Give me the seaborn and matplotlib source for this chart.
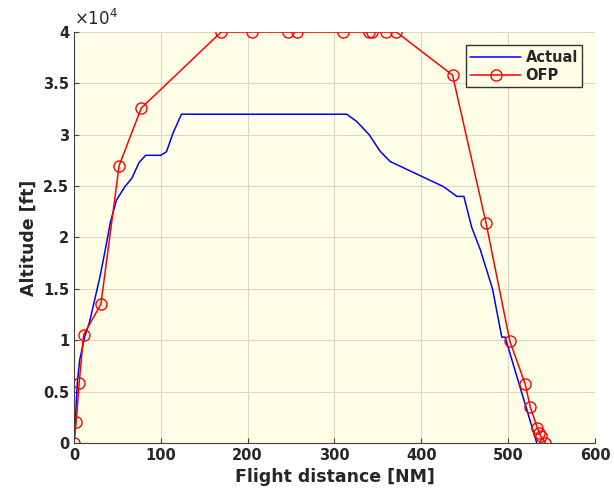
import numpy as np
import pandas as pd
import matplotlib.pyplot as plt
import seaborn as sns
from matplotlib.ticker import FuncFormatter

# actual flight track (distance NM, altitude ft)
actual_dist = [0, 0.5, 2, 3.8, 6.6, 12.4, 18, 30, 36, 42, 49, 58.6, 66.5, 75, 82.5, 100,
               106.5, 114, 123.8, 314, 325.5, 340, 352.5, 364, 425.5, 441, 449, 458,
               468, 482, 492.7, 496.5, 533]
actual_alt = [0, 600, 2800, 5800, 8100, 10350, 11800, 16200, 18800, 21500, 23650, 24950,
              25750, 27300, 28000, 28000, 28350, 30150, 32000, 32000, 31300, 30000, 28400,
              27400, 24950, 24000, 24000, 21000, 18800, 15000, 10300, 10300, 0]

# OFP waypoints
ofp_dist = [0, 2.5, 6, 11.2, 31, 52, 77.5, 169.5, 205, 246, 257, 309.5, 340, 343,
            359.5, 371.3, 436, 474.6, 502, 519.6, 525.5, 533.7, 536, 537.6, 543]
ofp_alt = [0, 2000, 5850, 10550, 13500, 27000, 32600, 40000, 40000, 40000, 40000, 40000,
           40000, 40000, 40000, 40000, 35800, 21400, 9900, 5750, 3500, 1450, 1000, 650, 0]

actual = pd.DataFrame({'dist': actual_dist, 'alt': actual_alt})
ofp = pd.DataFrame({'dist': ofp_dist, 'alt': ofp_alt})

sns.set_style('ticks')
plt.rcParams['font.family'] = ['DejaVu Sans']

fig = plt.figure(figsize=(6.14, 4.97), dpi=100)
ax = fig.add_axes([0.1205, 0.1087, 0.8485, 0.8269])
ax.set_facecolor('#FFFFE8')

sns.lineplot(data=actual, x='dist', y='alt', color='#0000FF', linewidth=1.1,
             sort=False, estimator=None, label='Actual', ax=ax)
sns.lineplot(data=ofp, x='dist', y='alt', color='#FF0000', linewidth=1.1,
             sort=False, estimator=None, marker='o', markersize=8,
             markerfacecolor='none', markeredgecolor='#FF0000', markeredgewidth=1.0,
             label='OFP', ax=ax)

ax.set_xlim(0, 600)
ax.set_ylim(0, 40000)
ax.set_xticks(np.arange(0, 601, 100))
ax.set_yticks(np.arange(0, 40001, 5000))
ax.yaxis.set_major_formatter(FuncFormatter(lambda v, p: '%g' % (v / 1e4)))
ax.grid(True, color='#d8d8c8', linewidth=0.8)
ax.tick_params(direction='in', labelsize=10.5, colors='#404040', labelcolor='#262626')
for lab in ax.get_xticklabels() + ax.get_yticklabels():
    lab.set_fontweight('bold')
sns.despine(ax=ax)
for s in ['left', 'bottom']:
    ax.spines[s].set_color('#404040')

ax.text(0.0, 1.008, r'$\times10^4$', transform=ax.transAxes, fontsize=12,
        color='#262626', ha='left', va='bottom')
ax.set_xlabel('Flight distance [NM]', fontsize=12.5, fontweight='bold', color='#262626')
ax.set_ylabel('Altitude [ft]', fontsize=12.5, fontweight='bold', color='#262626')

leg = ax.legend(loc='upper right', bbox_to_anchor=(0.99, 0.985), fancybox=False,
                edgecolor='#333333', framealpha=1, facecolor='#FFFFE8',
                prop={'weight': 'bold', 'size': 10.5}, handlelength=3.5,
                borderpad=0.3, labelspacing=0.2, handletextpad=0.3)
leg.get_frame().set_linewidth(1.0)

fig.savefig('out.png', dpi=100)
